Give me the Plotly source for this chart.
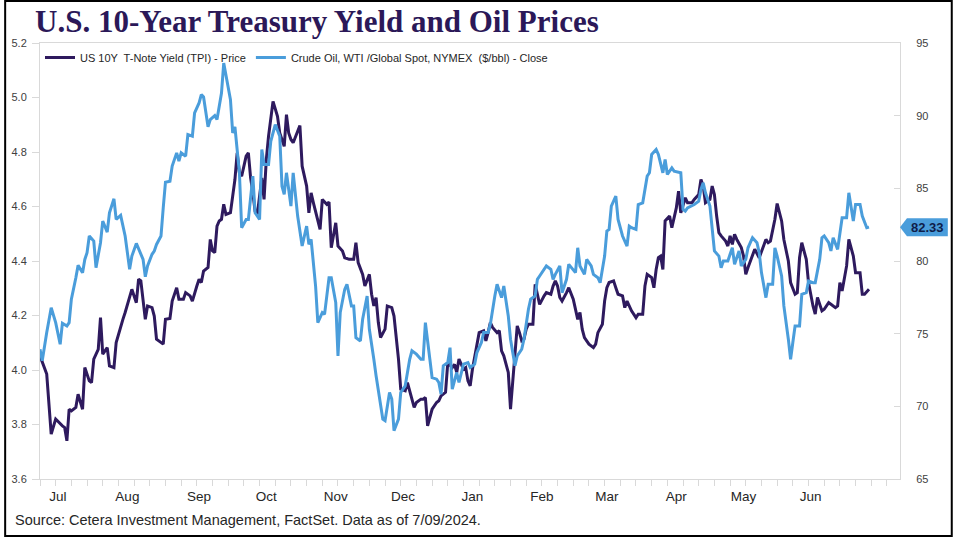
import pandas as pd
import plotly.graph_objects as go

START = pd.Timestamp("2023-07-07")

# US 10Y yield: days after 2023-07-07, value (%)
yield_days = [0, 3, 5, 7, 10, 11, 12, 13, 14, 16, 17, 19, 20, 22, 23, 24, 26, 27, 28, 30,
              31, 33, 34, 36, 37, 38, 40, 41, 43, 44, 45, 47, 48, 50, 51, 52, 55, 56, 58, 59,
              61, 62, 64, 65, 67, 68, 70, 71, 72, 73, 75, 76, 77, 78, 79, 80, 81, 82, 83, 85,
              86, 87, 88, 89, 90, 92, 93, 94, 95, 96, 97, 99, 100, 101, 102, 104, 106, 107, 109, 110,
              111, 112, 113, 115, 116, 117, 119, 120, 121, 122, 124, 125, 126, 128, 129, 130, 132, 133, 135, 136,
              138, 140, 141, 142, 144, 145, 147, 148, 149, 150, 151, 152, 154, 155, 157, 158, 160, 161, 163, 164,
              167, 168, 170, 171, 172, 173, 175, 177, 178, 179, 181, 182, 184, 185, 186, 187, 189, 190, 191, 192,
              193, 195, 196, 198, 199, 200, 201, 202, 204, 205, 206, 207, 209, 210, 212, 213, 214, 215, 216, 217,
              218, 220, 221, 222, 223, 225, 226, 228, 229, 230, 231, 232, 233, 235, 236, 238, 239, 240, 241, 242,
              243, 245, 247, 248, 249, 251, 252, 253, 254, 256, 257, 258, 260, 261, 262, 263, 264, 266, 267, 269,
              270, 271, 273, 274, 275, 276, 277, 278, 279, 281, 282, 284, 285, 286, 288, 289, 291, 292, 294, 295,
              296, 297, 299, 300, 301, 302, 303, 304, 306, 307, 308, 309, 310, 311, 313, 314, 315, 316, 318, 319,
              321, 322, 324, 325, 326, 328, 329, 331, 332, 334, 335, 337, 338, 339, 340, 342, 343, 345, 346, 347,
              349, 350, 352, 353, 355, 356, 357, 358, 360, 361, 363, 364, 366, 367, 368, 370]
yield_vals = [4.052, 3.985, 3.765, 3.820, 3.795, 3.789, 3.740, 3.856, 3.850, 3.863, 3.911, 3.856, 4.009, 3.960, 3.954, 4.040, 4.076, 4.192, 4.058, 4.082,
              4.015, 4.009, 4.101, 4.162, 4.186, 4.211, 4.266, 4.296, 4.247, 4.333, 4.327, 4.186, 4.235, 4.229, 4.198, 4.113, 4.095, 4.186, 4.189, 4.253,
              4.302, 4.260, 4.260, 4.284, 4.272, 4.253, 4.308, 4.333, 4.321, 4.363, 4.376, 4.479, 4.437, 4.431, 4.528, 4.547, 4.553, 4.608, 4.571, 4.577,
              4.638, 4.699, 4.797, 4.724, 4.711, 4.785, 4.797, 4.705, 4.650, 4.583, 4.571, 4.705, 4.626, 4.772, 4.858, 4.986, 4.931, 4.870, 4.821, 4.937,
              4.870, 4.846, 4.834, 4.876, 4.897, 4.748, 4.675, 4.577, 4.650, 4.614, 4.553, 4.516, 4.626, 4.608, 4.616, 4.449, 4.540, 4.455, 4.437, 4.412,
              4.406, 4.406, 4.467, 4.394, 4.351, 4.308, 4.351, 4.278, 4.235, 4.266, 4.174, 4.119, 4.150, 4.235, 4.229, 4.198, 4.040, 3.930, 3.924, 3.954,
              3.863, 3.881, 3.893, 3.893, 3.899, 3.795, 3.856, 3.881, 3.887, 3.905, 3.918, 4.027, 4.009, 4.021, 3.991, 4.040, 4.003, 4.009, 3.960, 3.942,
              4.003, 4.095, 4.137, 4.144, 4.107, 4.137, 4.174, 4.156, 4.137, 4.144, 4.070, 4.052, 3.991, 3.856, 4.040, 4.162, 4.137, 4.107, 4.113, 4.150,
              4.168, 4.168, 4.314, 4.272, 4.241, 4.272, 4.284, 4.278, 4.308, 4.327, 4.308, 4.266, 4.253, 4.284, 4.302, 4.260, 4.223, 4.186, 4.211, 4.150,
              4.119, 4.095, 4.082, 4.095, 4.137, 4.168, 4.253, 4.302, 4.321, 4.327, 4.302, 4.278, 4.272, 4.229, 4.253, 4.235, 4.217, 4.192, 4.205, 4.205,
              4.308, 4.351, 4.339, 4.302, 4.369, 4.412, 4.418, 4.369, 4.547, 4.565, 4.522, 4.595, 4.656, 4.577, 4.632, 4.614, 4.614, 4.626, 4.644, 4.699,
              4.675, 4.614, 4.626, 4.675, 4.644, 4.565, 4.504, 4.492, 4.473, 4.455, 4.492, 4.461, 4.498, 4.479, 4.449, 4.418, 4.351, 4.376, 4.418, 4.443,
              4.412, 4.437, 4.479, 4.467, 4.473, 4.553, 4.611, 4.547, 4.479, 4.400, 4.321, 4.278, 4.284, 4.412, 4.467, 4.406, 4.321, 4.235, 4.205, 4.266,
              4.217, 4.223, 4.247, 4.241, 4.229, 4.235, 4.321, 4.290, 4.382, 4.479, 4.418, 4.357, 4.357, 4.278, 4.278, 4.296]

# WTI crude oil: days after 2023-07-07, close ($/bbl)
oil_days = [0, 1, 3, 5, 7, 9, 10, 12, 13, 14, 16, 17, 19, 20, 21, 22, 24, 25, 27, 28,
            30, 31, 33, 34, 36, 38, 40, 41, 43, 45, 46, 47, 48, 50, 51, 52, 54, 55, 56, 58,
            59, 61, 62, 63, 65, 66, 68, 69, 71, 72, 73, 75, 76, 78, 79, 81, 82, 85, 86, 87,
            89, 90, 92, 93, 95, 96, 98, 99, 100, 102, 103, 105, 107, 108, 109, 110, 112, 113, 115, 117,
            119, 120, 121, 123, 124, 126, 127, 129, 130, 132, 133, 134, 136, 137, 139, 140, 141, 143, 144, 146,
            147, 149, 150, 153, 154, 156, 157, 158, 160, 161, 163, 165, 166, 168, 170, 171, 172, 174, 175, 177,
            178, 179, 180, 182, 183, 184, 186, 187, 188, 189, 191, 192, 194, 195, 197, 198, 200, 201, 203, 204,
            206, 207, 209, 210, 212, 213, 215, 216, 218, 219, 221, 222, 223, 225, 226, 228, 229, 230, 232, 233,
            235, 236, 238, 239, 240, 241, 243, 244, 246, 247, 249, 250, 252, 253, 254, 255, 257, 258, 260, 262,
            263, 264, 266, 267, 269, 271, 272, 273, 275, 276, 278, 279, 280, 282, 283, 286, 287, 288, 289, 291,
            292, 294, 295, 296, 297, 299, 300, 301, 303, 304, 305, 307, 308, 309, 310, 312, 313, 315, 316, 318,
            320, 321, 322, 324, 325, 327, 328, 329, 331, 332, 334, 335, 336, 337, 339, 340, 342, 343, 345, 346,
            348, 349, 350, 352, 353, 354, 356, 357, 358, 360, 361, 363, 364, 366, 367, 369, 370]
oil_vals = [73.93, 73.13, 75.08, 76.79, 75.76, 74.27, 75.72, 75.53, 75.76, 77.37, 78.85, 79.70, 79.20, 80.11, 80.57, 81.72, 81.37, 79.54, 81.26, 82.75,
            81.99, 83.32, 84.28, 82.86, 83.14, 81.72, 79.43, 80.34, 81.21, 80.39, 80.11, 78.92, 79.66, 80.46, 80.69, 81.14, 81.72, 83.66, 85.42, 85.49,
            86.53, 87.44, 86.87, 87.44, 87.21, 88.70, 88.59, 90.19, 90.88, 91.45, 91.29, 89.23, 89.73, 90.01, 89.73, 91.56, 93.62, 91.10, 88.81, 89.23,
            86.07, 82.29, 82.86, 82.86, 85.84, 83.32, 82.86, 87.67, 86.64, 86.64, 88.24, 89.39, 88.59, 85.15, 84.58, 86.07, 83.78, 86.07, 83.09, 81.03,
            82.40, 81.14, 81.49, 78.28, 75.76, 76.45, 76.33, 78.85, 78.85, 77.14, 73.47, 76.45, 78.05, 78.40, 76.91, 76.91, 74.73, 74.50, 75.99, 77.59,
            75.30, 73.24, 72.10, 69.12, 69.01, 70.95, 70.50, 68.32, 69.12, 70.95, 71.41, 73.24, 73.82, 73.59, 73.24, 73.24, 75.76, 73.24, 71.98, 71.87,
            71.64, 70.84, 72.79, 73.01, 74.04, 71.18, 72.33, 71.64, 72.33, 72.90, 73.01, 72.67, 72.90, 73.70, 74.39, 75.08, 75.08, 75.65, 77.59, 78.40,
            77.48, 78.28, 76.22, 74.62, 72.79, 73.47, 73.93, 74.62, 76.68, 77.37, 77.59, 78.74, 78.97, 79.43, 79.66, 79.43, 78.74, 79.08, 79.66, 77.82,
            78.74, 79.77, 79.43, 79.20, 80.91, 79.66, 79.08, 80.11, 79.66, 79.08, 78.85, 78.51, 80.34, 82.06, 82.17, 83.78, 84.46, 82.86, 81.72, 81.03,
            82.40, 82.29, 82.17, 83.89, 84.00, 85.84, 86.07, 87.33, 87.67, 87.33, 86.07, 86.98, 85.95, 86.41, 86.18, 86.07, 83.55, 83.43, 83.66, 83.78,
            83.89, 84.12, 84.92, 85.38, 84.69, 83.78, 82.40, 80.69, 80.34, 79.54, 80.00, 80.00, 80.46, 80.91, 79.77, 80.69, 79.66, 80.11, 80.91, 81.60,
            81.26, 80.57, 79.20, 77.48, 78.40, 78.40, 80.91, 80.34, 78.97, 76.91, 74.62, 73.24, 74.39, 75.53, 75.53, 77.71, 77.82, 78.62, 78.51, 78.51,
            80.11, 81.60, 81.72, 81.26, 80.69, 81.60, 80.80, 82.06, 82.98, 82.98, 84.69, 82.75, 83.89, 83.89, 83.09, 82.29, 82.33]

# month labels sit mid-month on the date axis
month_label_dates = ["2023-07-15", "2023-08-15", "2023-09-16", "2023-10-16", "2023-11-16", "2023-12-16",
                     "2024-01-16", "2024-02-16", "2024-03-16", "2024-04-16", "2024-05-16", "2024-06-15"]
month_labels = ["Jul", "Aug", "Sep", "Oct", "Nov", "Dec", "Jan", "Feb", "Mar", "Apr", "May", "Jun"]

yield_dates = START + pd.to_timedelta(yield_days, unit="D")
oil_dates = START + pd.to_timedelta(oil_days, unit="D")

YIELD_COLOR = "#2E1A5E"
OIL_COLOR = "#4A9DDB"
AXIS_GRAY = "#D9D9D9"
FONT = "Liberation Sans, Arial, sans-serif"

fig = go.Figure()
fig.add_trace(go.Scatter(x=yield_dates, y=yield_vals, mode="lines",
                         name="US 10Y  T-Note Yield (TPI) - Price",
                         line=dict(color=YIELD_COLOR, width=3), yaxis="y"))
fig.add_trace(go.Scatter(x=oil_dates, y=oil_vals, mode="lines",
                         name="Crude Oil, WTI /Global Spot, NYMEX  ($/bbl) - Close",
                         line=dict(color=OIL_COLOR, width=3), yaxis="y2"))

Y2_MIN, Y2_MAX = 65, 95
last_oil = oil_vals[-1]
yc = (last_oil - Y2_MIN) / (Y2_MAX - Y2_MIN)
h = 9 / 436

fig.update_layout(
    width=953, height=537,
    margin=dict(l=36, r=53, t=43, b=58),
    paper_bgcolor="white", plot_bgcolor="white",
    showlegend=True,
    title=dict(text="<b>U.S. 10-Year Treasury Yield and Oil Prices</b>",
               x=35 / 953, xref="container", xanchor="left",
               y=1 - 21 / 537, yref="container", yanchor="middle",
               font=dict(family="Liberation Serif, Times New Roman, serif", size=31, color="#2B1858")),
    legend=dict(orientation="h", x=0, xanchor="left", y=1, yanchor="top",
                font=dict(family=FONT, size=11, color="#262626"),
                bgcolor="rgba(0,0,0,0)", itemwidth=30, tracegroupgap=0),
    xaxis=dict(type="date",
               range=["2023-07-07", "2024-07-24 20:00"],
               tickmode="array", tickvals=month_label_dates, ticktext=month_labels,
               ticks="outside", ticklen=5, tickcolor="rgba(0,0,0,0)",
               minor=dict(ticks="outside", ticklen=6, tickcolor=AXIS_GRAY,
                          dtick=7 * 24 * 3600 * 1000, tick0="2023-07-07"),
               showline=True, linecolor=AXIS_GRAY, linewidth=1, mirror=True,
               showgrid=False, zeroline=False,
               tickfont=dict(family=FONT, size=13.5, color="#262626")),
    yaxis=dict(range=[3.6, 5.2], dtick=0.2, tickformat=".1f",
               ticks="outside", ticklen=7, tickcolor=AXIS_GRAY,
               showline=True, linecolor=AXIS_GRAY, linewidth=1,
               showgrid=False, zeroline=False, ticklabelstandoff=3,
               tickfont=dict(family=FONT, size=11, color="#404040")),
    yaxis2=dict(range=[Y2_MIN, Y2_MAX], dtick=5, overlaying="y", side="right",
                ticks="inside", ticklen=6, tickcolor=AXIS_GRAY,
                showline=True, linecolor=AXIS_GRAY, linewidth=1,
                showgrid=False, zeroline=False, ticklabelstandoff=13,
                tickfont=dict(family=FONT, size=11, color="#404040")),
    shapes=[
        dict(type="rect", xref="paper", yref="paper",
             x0=(1 - 36) / 864, x1=(952 - 36) / 864,
             y0=(479 - 536) / 436, y1=(479 - 1) / 436,
             line=dict(color="black", width=2), fillcolor="rgba(0,0,0,0)", layer="above"),
        dict(type="path", xref="paper", yref="paper",
             path=(f"M 1.0,{yc} L 1.0081,{yc + h} L 1.0556,{yc + h} "
                   f"L 1.0556,{yc - h} L 1.0081,{yc - h} Z"),
             fillcolor=OIL_COLOR, line=dict(width=0), layer="above"),
    ],
    annotations=[
        dict(text=f"<b>{last_oil:.2f}</b>", xref="paper", yref="paper",
             x=1.032, y=yc, xanchor="center", yanchor="middle", showarrow=False,
             font=dict(family=FONT, size=13, color="#0F1E4A")),
        dict(text="Source: Cetera Investment Management, FactSet. Data as of 7/09/2024.",
             xref="paper", yref="paper", x=(9 - 36) / 864, y=(479 - 520) / 436,
             xanchor="left", yanchor="middle", showarrow=False,
             font=dict(family=FONT, size=14.5, color="#262626")),
    ],
)

fig.write_html("out.html")
